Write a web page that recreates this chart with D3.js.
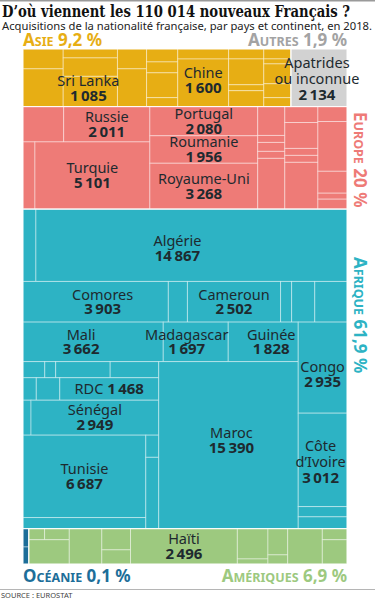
<!DOCTYPE html>
<html lang="fr">
<head>
<meta charset="UTF-8">
<title>D’où viennent les 110 014 nouveaux Français ?</title>
<script src="https://d3js.org/d3.v7.min.js"></script>
<style>
  body { margin: 0; background: #fff; }
  svg { display: block; }
  .nom { font-family: "Noto Sans", sans-serif; font-size: 14.5px; fill: #1e2a2f; text-anchor: middle; }
  .val { font-weight: 700; font-size: 15px; }
  .cont { font-family: "Noto Sans", sans-serif; font-weight: 700; }
</style>
</head>
<body>
<div id="chart"></div>
<script>
// pays nommés sur le graphique
const pays = ["Algérie", "Maroc", "Tunisie", "Turquie", "Comores", "Mali", "Royaume-Uni", "Côte d’Ivoire", "Sénégal", "Congo",
  "Cameroun", "Haïti", "Apatrides ou inconnue", "Portugal", "Russie", "Roumanie", "Guinée", "Madagascar", "Chine", "RDC", "Sri Lanka"];
const effectifs = [14867, 15390, 6687, 5101, 3903, 3662, 3268, 3012, 2949, 2935,
  2502, 2496, 2134, 2080, 2011, 1956, 1828, 1697, 1600, 1468, 1085];

const continents = ["Asie", "Autres", "Europe", "Afrique", "Océanie", "Amériques"];
const parts = [9.2, 1.9, 20, 61.9, 0.1, 6.9];

// découpage de chaque bloc : nombres = petits pays sans étiquette (estimés d'après les surfaces)
const asie = [[527, 1002], [320, 660, "Sri Lanka"], [382, 727], [266, 225, 511, 184], [336, "Chine"], [231, 600, 138, 369], [178, 89, 356, 249, 160]];
const autres = ["Apatrides ou inconnue"];
const europe = [[[949, "Russie"], [530, "Turquie"]], ["Portugal", "Roumanie", "Royaume-Uni"],
  [516, 125, 160, 125, 908], [348, 566, 152, 152, 1022], [287, 956, 421, 115, 191]];
const afrique = [[617, "Algérie"], ["Comores", 513, "Cameroun", 297, 622, 865],
  [[["Mali", "Madagascar", "Guinée"],
    [[[232, 116, 580, 517], [197, 349, "RDC"], [185, "Sénégal"], [["Tunisie", 899], [189, 608]]], "Maroc"]],
   ["Congo", "Côte d’Ivoire", 330, 380]]];
const oceanie = [70, 65];
const ameriques = [[[116, 181], 649], [761], [402, 268], ["Haïti"], [613, 102], [343, 119], [808], [181, 396]];

const couleurs = { "Asie": "#e7ae14", "Autres": "#d2d2d2", "Europe": "#ee7b77", "Afrique": "#2db3c4", "Océanie": "#1d6e99", "Amériques": "#9dc97f" };
const couleursTexte = { "Asie": "#e7ae14", "Autres": "#a3a3a3", "Europe": "#ee7b77", "Afrique": "#2db3c4", "Océanie": "#1d6e99", "Amériques": "#9dc97f" };

const fr = d3.formatLocale({ decimal: ",", thousands: "\u202F", grouping: [3], currency: ["", " €"] });
const fmt = fr.format(",");

const svg = d3.select("#chart").append("svg").attr("width", 375).attr("height", 600);

// titre
svg.append("rect").attr("x", 0).attr("y", 0).attr("width", 375).attr("height", 1.5).attr("fill", "#9a9a9a");
svg.append("text").attr("x", 2).attr("y", 17)
  .attr("textLength", 348).attr("lengthAdjust", "spacingAndGlyphs")
  .style("font-family", "'DejaVu Serif Condensed', 'DejaVu Serif', serif").style("font-weight", 700)
  .style("font-size", "17.5px").attr("fill", "#111")
  .text("D’où viennent les 110 014 nouveaux Français ?");
svg.append("text").attr("x", 2).attr("y", 30)
  .attr("textLength", 370).attr("lengthAdjust", "spacingAndGlyphs")
  .style("font-family", "'Noto Sans', sans-serif").style("font-size", "11px").attr("fill", "#222")
  .text("Acquisitions de la nationalité française, par pays et continent, en 2018.");

// hiérarchie
const valeurDe = new Map(pays.map((p, i) => [p, effectifs[i]]));
function bloc(items, dir, cont) {
  return {
    dir, cont,
    children: items.map(it => Array.isArray(it) ? bloc(it, dir === "h" ? "v" : "h", cont)
      : typeof it === "string" ? { name: it, value: valeurDe.get(it), cont } : { value: it, cont })
  };
}
const dirs = ["h", "v", "h", "v", "v", "h"];
const blocs = [asie, autres, europe, afrique, oceanie, ameriques].map((b, i) => {
  const n = bloc(b, dirs[i], continents[i]);
  n.continent = true;
  return n;
});
const arbre = { dir: "v", children: [
  { dir: "h", children: [blocs[0], blocs[1]] },
  blocs[2], blocs[3],
  { dir: "h", children: [blocs[4], blocs[5]] }
]};

const root = d3.hierarchy(arbre).sum(d => d.value);
const tuile = (node, x0, y0, x1, y1) =>
  (node.data.dir === "h" ? d3.treemapDice : d3.treemapSlice)(node, x0, y0, x1, y1);
d3.treemap().size([324, 515]).tile(tuile)(root);

const g = svg.append("g").attr("transform", "translate(23,49)");

g.selectAll("rect.cell")
  .data(root.leaves())
  .join("rect")
  .attr("class", "cell")
  .attr("x", d => d.x0).attr("y", d => d.y0)
  .attr("width", d => d.x1 - d.x0).attr("height", d => d.y1 - d.y0)
  .attr("fill", d => couleurs[d.data.cont])
  .attr("stroke", "rgba(255,255,255,0.42)")
  .attr("stroke-width", 1);

g.selectAll("rect.bloc")
  .data(root.descendants().filter(d => d.data.continent))
  .join("rect")
  .attr("class", "bloc")
  .attr("x", d => d.x0).attr("y", d => d.y0)
  .attr("width", d => d.x1 - d.x0).attr("height", d => d.y1 - d.y0)
  .attr("fill", "none")
  .attr("stroke", "rgba(255,255,255,0.75)")
  .attr("stroke-width", 1);

// étiquettes des pays
const coupures = { "Apatrides ou inconnue": ["Apatrides", "ou inconnue"], "Côte d’Ivoire": ["Côte", "d’Ivoire"] };
const enLigne = ["RDC"];
const decalages = { "Algérie": [-14, 3], "Comores": [7, 0], "Mali": [-12, 0], "Madagascar": [-9, 0], "Guinée": [8, 0],
  "Congo": [0, 7], "Maroc": [3, -5], "Chine": [0, -2.5], "Sri Lanka": [-2, -3],
  "Apatrides ou inconnue": [-2, 1], "Côte d’Ivoire": [-2, 2] };

root.leaves().filter(d => d.data.name).forEach(d => {
  const [dx, dy] = decalages[d.data.name] || [0, 0];
  const cx = (d.x0 + d.x1) / 2 + dx, cy = (d.y0 + d.y1) / 2 + dy;
  const t = g.append("text").attr("class", "nom");
  if (enLigne.includes(d.data.name)) {
    t.attr("x", cx).attr("y", cy).attr("dy", "0.35em");
    t.append("tspan").text(d.data.name + " ");
    t.append("tspan").attr("class", "val").text(fmt(d.value));
    return;
  }
  const lignes = (coupures[d.data.name] || [d.data.name]).concat([fmt(d.value)]);
  const lh = lignes.length > 2 ? 15.5 : 14.5;
  lignes.forEach((l, i) => {
    t.append("tspan")
      .attr("class", i === lignes.length - 1 ? "val" : null)
      .attr("x", cx)
      .attr("y", cy + (i - (lignes.length - 1) / 2) * lh)
      .attr("dy", "0.35em")
      .text(l);
  });
});

// étiquettes des continents (petites capitales)
function etiquette(sel, i) {
  const nom = continents[i];
  sel.attr("fill", couleursTexte[nom]).attr("class", "cont");
  sel.append("tspan").style("font-size", "17px").text(nom[0].toUpperCase());
  sel.append("tspan").style("font-size", "12.5px").text(nom.slice(1).toUpperCase());
  sel.append("tspan").style("font-size", "17px").text(" " + fr.format(",")(parts[i]) + "\u00A0%");
}
etiquette(svg.append("text").attr("x", 23).attr("y", 46), 0);
etiquette(svg.append("text").attr("x", 347).attr("y", 46).attr("text-anchor", "end"), 1);
etiquette(svg.append("text").attr("transform", "translate(354,112) rotate(90)"), 2);
etiquette(svg.append("text").attr("transform", "translate(354,257) rotate(90)"), 3);
etiquette(svg.append("text").attr("x", 23).attr("y", 582), 4);
etiquette(svg.append("text").attr("x", 347).attr("y", 582).attr("text-anchor", "end"), 5);

// source
svg.append("line").attr("x1", 0).attr("x2", 375).attr("y1", 589.5).attr("y2", 589.5)
  .attr("stroke", "#b5b5b5").attr("stroke-width", 1);
svg.append("text").attr("x", 1).attr("y", 598)
  .style("font-family", "'Noto Sans', sans-serif").style("font-size", "7.5px").attr("fill", "#444")
  .text("SOURCE : EUROSTAT");
</script>
</body>
</html>
